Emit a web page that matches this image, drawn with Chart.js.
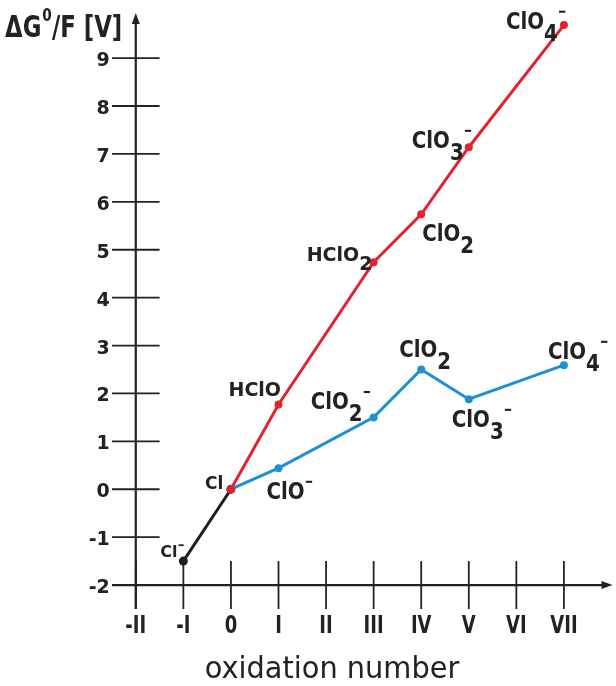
<!DOCTYPE html>
<html>
<head>
<meta charset="utf-8">
<script src="https://cdn.jsdelivr.net/npm/chart.js@4/dist/chart.umd.min.js"></script>
<style>
  html, body { margin: 0; padding: 0; background: #ffffff; }
  #wrap { width: 616px; height: 686px; position: relative; }
</style>
</head>
<body>
<div id="wrap"><canvas id="c" width="616" height="686"></canvas></div>
<script>
// ---- data ----
const oxidationNumbers = [-2, -1, 0, 1, 2, 3, 4, 5, 6, 7];
const oxidationLabels = ['-II', '-I', '0', 'I', 'II', 'III', 'IV', 'V', 'VI', 'VII'];
const yTickValues = [-2, -1, 0, 1, 2, 3, 4, 5, 6, 7, 8, 9];

const blackX = [-1, 0];
const blackY = [-1.5, 0];
const blackNames = ['Cl-', 'Cl'];

const redX = [0, 1, 3, 4, 5, 7];
const redY = [0, 1.77, 4.74, 5.74, 7.14, 9.69];
const redNames = ['', 'HClO', 'HClO2', 'ClO2', 'ClO3-', 'ClO4-'];

const blueX = [0, 1, 3, 4, 5, 7];
const blueY = [0, 0.44, 1.50, 2.50, 1.88, 2.59];
const blueNames = ['', 'ClO-', 'ClO2-', 'ClO2', 'ClO3-', 'ClO4-'];

const yTitle = 'ΔG';
const yTitleSup = '0';
const yTitleRest = '/F [V]';
const xTitle = 'oxidation number';

// ---- label placement (pixel offsets from each point; style only) ----
const big = {size: 23, bold: true, sx: 0.86, sub: 0.52};
const small = {size: 18, bold: true, sx: 1, sub: 0.45};
const labelPlacement = {
  black: [Object.assign({dx: -23, dy: -4}, small, {size: 16}), Object.assign({dx: -26, dy: 0}, small, {size: 17})],
  red: [null,
        Object.assign({dx: -50, dy: -8}, small, {size: 19}),
        Object.assign({dx: -67, dy: -1}, small, {size: 19}),
        Object.assign({dx: 1, dy: 27}, big),
        Object.assign({dx: -57, dy: 1}, big),
        Object.assign({dx: -58, dy: 4}, big)],
  blue: [null,
        Object.assign({dx: -12, dy: 31}, big),
        Object.assign({dx: -63, dy: -8}, big),
        Object.assign({dx: -22, dy: -12}, big),
        Object.assign({dx: -17, dy: 28}, big),
        Object.assign({dx: -16, dy: -6}, big)]
};

const RED = '#e3232b';
const BLUE = '#1d8fd5';
const BLACK = '#1e1e1e';
const INK = '#222222';
const FONT = "'DejaVu Sans', Verdana, sans-serif";

function toPoints(xs, ys) { return xs.map((x, i) => ({x: x, y: ys[i]})); }

function drawFormula(ctx, name, x, y, p) {
  const size = p.size;
  const m = name.match(/^(.*?)(\d*)(-?)$/);
  const base = m[1], sub = m[2], sup = m[3];
  ctx.save();
  ctx.translate(x, y);
  ctx.scale(p.sx, 1);
  ctx.fillStyle = INK;
  ctx.textAlign = 'left';
  ctx.textBaseline = 'alphabetic';
  ctx.font = (p.bold ? 'bold ' : '') + size + 'px ' + FONT;
  ctx.fillText(base, 0, 0);
  let w = ctx.measureText(base).width;
  if (sub) {
    ctx.fillText(sub, w, size * p.sub);
    w += ctx.measureText(sub).width;
  }
  if (sup) {
    const len = size * 0.32;
    ctx.fillRect(w + size * 0.06, -size * 0.8, len, Math.max(1.8, size * 0.09));
  }
  ctx.restore();
}

function drawScaledText(ctx, text, x, y, font, sx, align) {
  ctx.save();
  ctx.font = font;
  const w = ctx.measureText(text).width * sx;
  let left = x;
  if (align === 'center') left = x - w / 2;
  else if (align === 'right') left = x - w;
  ctx.translate(left, y);
  ctx.scale(sx, 1);
  ctx.textAlign = 'left';
  ctx.textBaseline = 'alphabetic';
  ctx.fillStyle = INK;
  ctx.fillText(text, 0, 0);
  ctx.restore();
}

const frostAxes = {
  id: 'frostAxes',
  beforeDatasetsDraw(chart) {
    const ctx = chart.ctx;
    const xs = chart.scales.x, ys = chart.scales.y;
    const x0 = xs.getPixelForValue(-2);
    const y0 = ys.getPixelForValue(-2);
    const halfX = xs.getPixelForValue(-1.5) - xs.getPixelForValue(-2);
    const halfY = ys.getPixelForValue(-2) - ys.getPixelForValue(-1.5);
    const left = xs.getPixelForValue(-2.5);
    const right = chart.chartArea.right;
    const top = chart.chartArea.top;
    const bottom = ys.getPixelForValue(-2.5);
    ctx.save();
    ctx.strokeStyle = INK;
    ctx.fillStyle = INK;
    ctx.lineWidth = 1.8;
    yTickValues.forEach(v => {
      const py = ys.getPixelForValue(v);
      ctx.beginPath();
      ctx.moveTo(x0 - halfX, py);
      ctx.lineTo(x0 + halfX, py);
      ctx.stroke();
    });
    oxidationNumbers.forEach(v => {
      const px = xs.getPixelForValue(v);
      ctx.beginPath();
      ctx.moveTo(px, y0 - halfY);
      ctx.lineTo(px, y0 + halfY);
      ctx.stroke();
    });
    ctx.lineWidth = 2.2;
    ctx.beginPath();
    ctx.moveTo(x0, bottom);
    ctx.lineTo(x0, top + 6);
    ctx.stroke();
    ctx.beginPath();
    ctx.moveTo(left, y0);
    ctx.lineTo(right - 6, y0);
    ctx.stroke();
    ctx.beginPath();
    ctx.moveTo(x0, top - 2);
    ctx.lineTo(x0 - 4, top + 9);
    ctx.lineTo(x0 + 4, top + 9);
    ctx.closePath();
    ctx.fill();
    ctx.beginPath();
    ctx.moveTo(right + 1, y0);
    ctx.lineTo(right - 10, y0 - 4);
    ctx.lineTo(right - 10, y0 + 4);
    ctx.closePath();
    ctx.fill();
    ctx.restore();
  },
  afterDatasetsDraw(chart) {
    const ctx = chart.ctx;
    const xs = chart.scales.x, ys = chart.scales.y;
    const x0 = xs.getPixelForValue(-2);
    yTickValues.forEach(v => {
      drawScaledText(ctx, String(v), x0 - 26, ys.getPixelForValue(v) + 8, 'bold 20px ' + FONT, 0.95, 'right');
    });
    oxidationNumbers.forEach((v, i) => {
      drawScaledText(ctx, oxidationLabels[i], xs.getPixelForValue(v), 633, 'bold 25px ' + FONT, 0.72, 'center');
    });
    ctx.save();
    ctx.font = 'bold 30px ' + FONT;
    const sx = 0.76;
    let cx = 5;
    drawScaledText(ctx, yTitle, cx, 37, 'bold 30px ' + FONT, sx, 'left');
    cx += ctx.measureText(yTitle).width * sx;
    ctx.font = 'bold 18px ' + FONT;
    drawScaledText(ctx, yTitleSup, cx + 1, 21, 'bold 18px ' + FONT, sx, 'left');
    cx += ctx.measureText(yTitleSup).width * sx + 1;
    drawScaledText(ctx, yTitleRest, cx, 37, 'bold 30px ' + FONT, sx, 'left');
    ctx.restore();
    drawScaledText(ctx, xTitle, 332, 678, '30px ' + FONT, 0.96, 'center');
    const groups = [
      {xsArr: blackX, ysArr: blackY, names: blackNames, place: labelPlacement.black},
      {xsArr: redX, ysArr: redY, names: redNames, place: labelPlacement.red},
      {xsArr: blueX, ysArr: blueY, names: blueNames, place: labelPlacement.blue}
    ];
    groups.forEach(g => {
      g.names.forEach((n, i) => {
        const p = g.place[i];
        if (!n || !p) return;
        const px = xs.getPixelForValue(g.xsArr[i]);
        const py = ys.getPixelForValue(g.ysArr[i]);
        drawFormula(ctx, n, px + p.dx, py + p.dy, p);
      });
    });
  }
};

new Chart(document.getElementById('c'), {
  type: 'scatter',
  data: {
    datasets: [
      {data: toPoints(redX, redY), showLine: true, borderColor: RED, backgroundColor: RED,
       borderWidth: 3, pointRadius: 4, pointBorderWidth: 0, clip: false},
      {data: toPoints(blueX, blueY), showLine: true, borderColor: BLUE, backgroundColor: BLUE,
       borderWidth: 3, pointRadius: 4, pointBorderWidth: 0, clip: false},
      {data: toPoints(blackX, blackY), showLine: true, borderColor: BLACK, backgroundColor: BLACK,
       borderWidth: 3, pointRadius: 4.5, pointBorderWidth: 0, clip: false}
    ]
  },
  options: {
    responsive: false,
    animation: false,
    layout: {padding: {left: 112, right: 3, top: 15, bottom: 77}},
    plugins: {legend: {display: false}, tooltip: {enabled: false}},
    scales: {
      x: {type: 'linear', min: -2.5, max: 8, display: false},
      y: {type: 'linear', min: -2.5, max: 9.9, display: false}
    }
  },
  plugins: [frostAxes]
});
</script>
</body>
</html>
